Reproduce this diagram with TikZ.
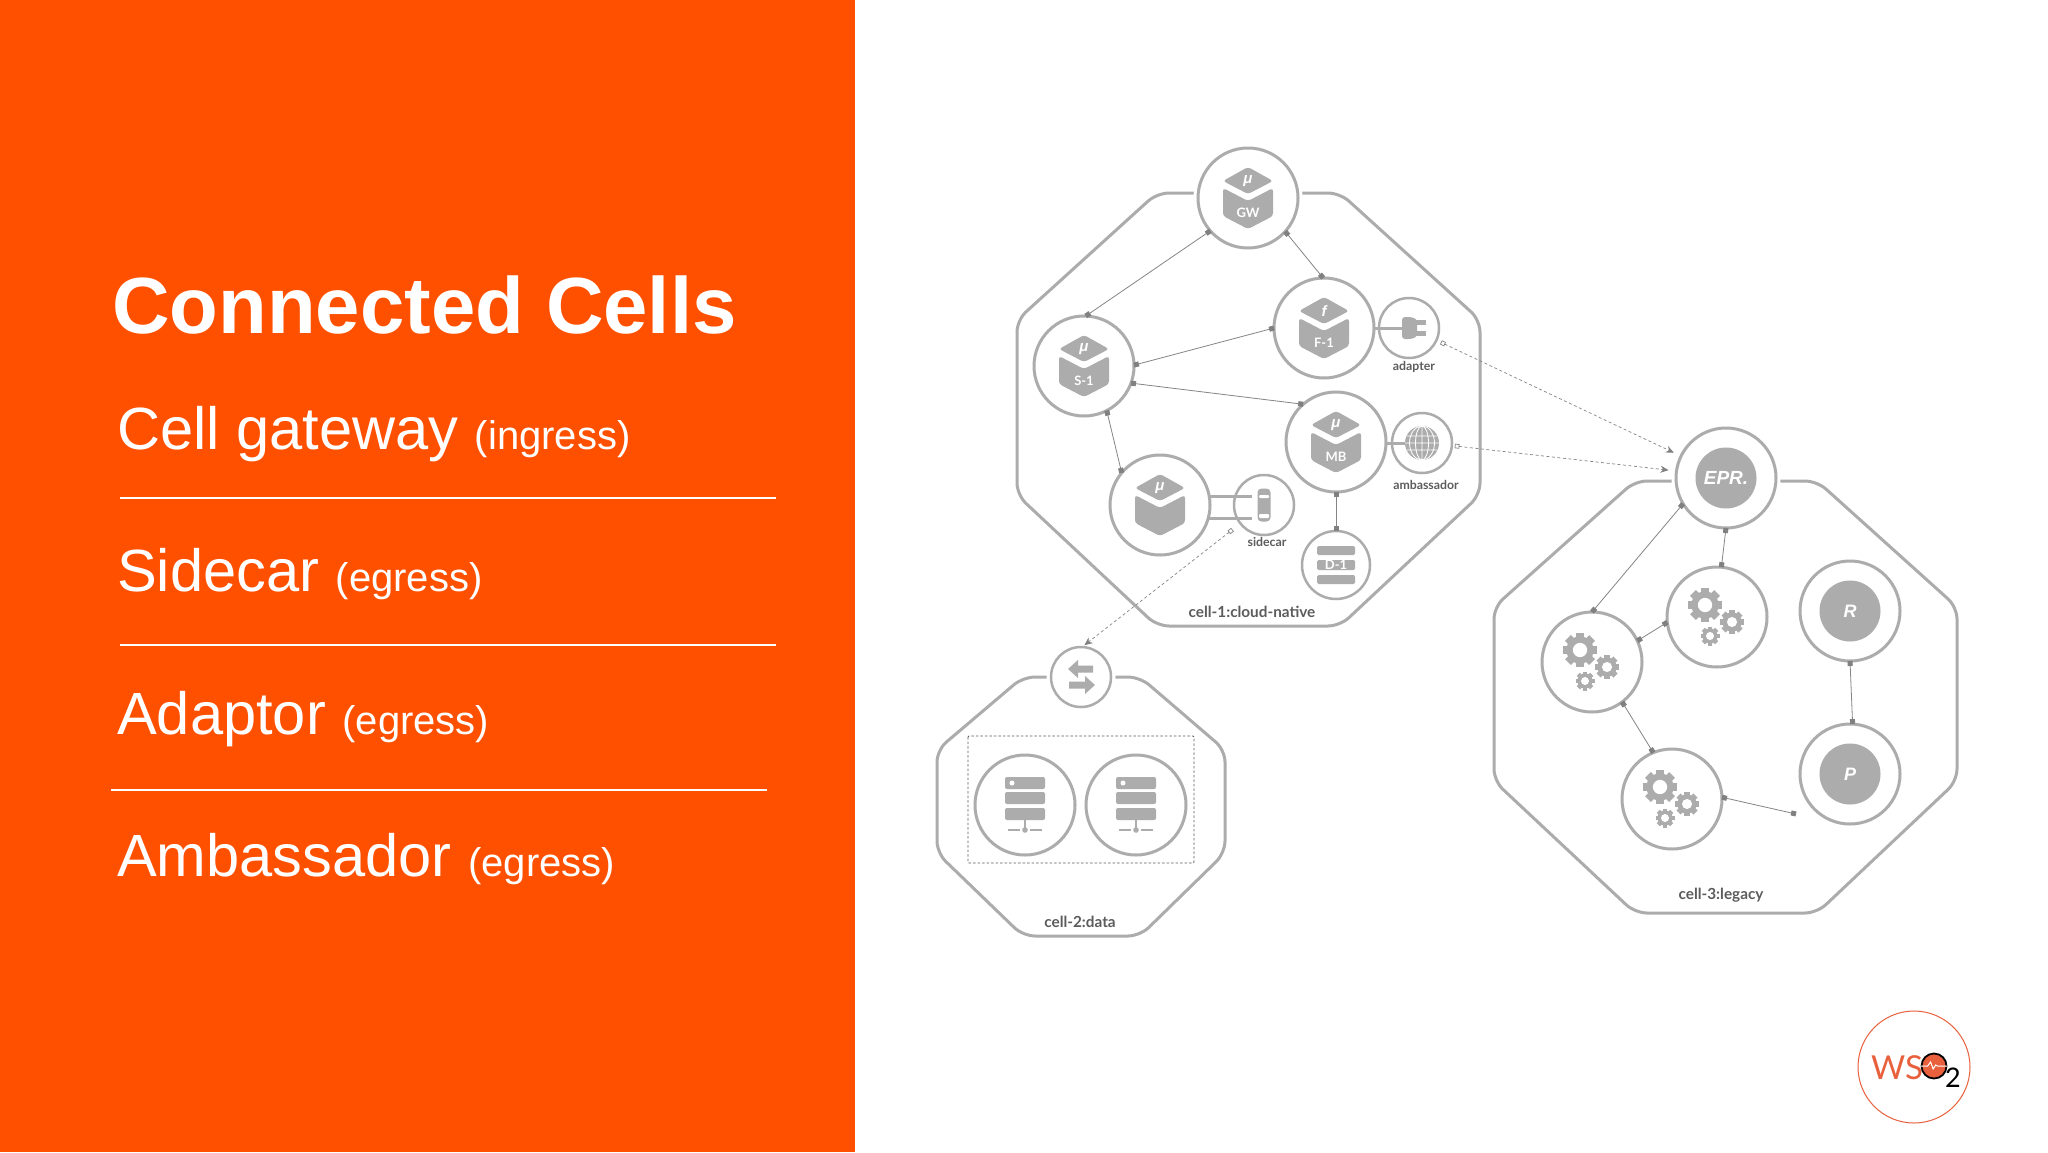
\documentclass[tikz,border=0pt]{standalone}
\usepackage{fontspec}
\usetikzlibrary{arrows.meta}
\setmainfont{Liberation Sans}
\newfontfamily\cellfont{Lato}
\definecolor{slideorange}{HTML}{FF5000}
\definecolor{cellgray}{HTML}{ABACAB}
\definecolor{linkgray}{HTML}{858585}
\definecolor{labelgray}{HTML}{5C5C5C}
\definecolor{logored}{HTML}{E8603C}
\tikzstyle{service}=[circle,draw=cellgray,fill=white,line width=3pt,minimum size=100pt,inner sep=0pt,outer sep=0pt]
\tikzstyle{gateway}=[service,preaction={draw=white,line width=9pt}]
\tikzstyle{helper}=[service,minimum size=60pt,line width=2.5pt]
\tikzstyle{cell}=[draw=cellgray,line width=3pt,rounded corners=12pt]
\tikzstyle{link}=[draw=linkgray,line width=.8pt,{Square[length=5pt,width=5pt,color=gray]}-{Square[length=5pt,width=5pt,color=gray]}]
\tikzstyle{egress}=[draw=linkgray,line width=.7pt,dash pattern=on 3pt off 2.5pt,{Square[open,length=4.5pt,width=4.5pt]}-{Stealth[length=8pt,width=7pt,color=gray]}]
\tikzstyle{stub}=[draw=cellgray,line width=3pt]
\tikzstyle{icon}=[fill=cellgray]
\tikzstyle{celllabel}=[text=labelgray,font=\cellfont\bfseries\fontsize{15.3}{15}\selectfont]
\tikzstyle{roleslabel}=[text=labelgray,font=\cellfont\bfseries\fontsize{12.3}{12}\selectfont]
\tikzstyle{iconlabel}=[text=white,font=\cellfont\bfseries\fontsize{13}{13}\selectfont,inner sep=0pt]
\tikzstyle{heading}=[anchor=base west,text=white,inner sep=0pt]
\tikzstyle{rule}=[draw=white,line width=2pt]
\newcommand{\biglabel}[1]{\fontsize{59.6}{60}\selectfont #1}
\newcommand{\smalllabel}[1]{\fontsize{40}{40}\selectfont #1}
\newcommand{\cubeicon}[3]{
  \begin{scope}[shift={(#1)}]
    \fill[icon,rounded corners=3pt] (-25,-17) -- (0,-31) -- (25,-17) -- (0,-4) -- cycle;
    \fill[icon,rounded corners=3pt] (-25,-10) -- (0,3) -- (25,-10) -- (25,18) -- (0,31) -- (-25,18) -- cycle;
    \node[iconlabel,font=\bfseries\itshape\fontsize{15}{15}\selectfont] (#1top) at (0,-17) {#2};
    \node[iconlabel] (#1name) at (0,15) {#3};
  \end{scope}
}
\newcommand{\gearicon}[3]{
  \begin{scope}[shift={(#1,#2)}]
    \foreach \ang in {0,45,90,135}
      \fill[icon,rotate=\ang] (-#3,{-0.24*#3}) rectangle (#3,{0.24*#3});
    \fill[icon] (0,0) circle[radius={0.8*#3}];
    \fill[white] (0,0) circle[radius={0.42*#3}];
  \end{scope}
}
\newcommand{\gearset}[1]{
  \begin{scope}[shift={(#1)}]
    \gearicon{-12}{-12}{17}
    \gearicon{15}{5}{12}
    \gearicon{-7}{19}{9.5}
  \end{scope}
}
\newcommand{\servericon}[1]{
  \begin{scope}[shift={(#1)}]
    \fill[icon,rounded corners=2pt] (-20,-28) rectangle (20,-16);
    \fill[icon,rounded corners=2pt] (-20,-13) rectangle (20,-1);
    \fill[icon,rounded corners=2pt] (-20,3) rectangle (20,15);
    \fill[white] (-13,-22) circle[radius=2.5];
    \fill[icon] (-1.2,15) rectangle (1.2,25);
    \fill[icon] (0,25) circle[radius=2.8];
    \fill[icon] (-17,24.2) rectangle (-5,25.8);
    \fill[icon] (5,24.2) rectangle (17,25.8);
  \end{scope}
}
\begin{document}
\begin{tikzpicture}[x=1pt,y=-1pt]
\useasboundingbox (0,0) rectangle (2048,1152);
\fill[white] (0,0) rectangle (2048,1152);
\fill[slideorange] (0,0) rectangle (855,1152);

\node[heading] (title) at (112,333) {\fontsize{79.7}{79}\selectfont\bfseries Connected Cells};
\node[heading] (ingress) at (117,449) {\biglabel{Cell gateway} \smalllabel{(ingress)}};
\node[heading] (sidecartext) at (117,591) {\biglabel{Sidecar} \smalllabel{(egress)}};
\node[heading] (adaptortext) at (117,734) {\biglabel{Adaptor} \smalllabel{(egress)}};
\node[heading] (ambassadortext) at (117,876) {\biglabel{Ambassador} \smalllabel{(egress)}};
\draw[rule] (120,498) -- (776,498);
\draw[rule] (120,645) -- (776,645);
\draw[rule] (111,790) -- (767,790);

\draw[cell] (1157,193) -- (1340,193) -- (1480,320) -- (1480,495) -- (1340,626) -- (1157,626) -- (1017,495) -- (1017,320) -- cycle;
\draw[cell] (1023,677) -- (1140,677) -- (1225,750) -- (1225,853) -- (1140,936) -- (1023,936) -- (937,853) -- (937,750) -- cycle;
\draw[cell] (1635,481) -- (1817,481) -- (1957,607) -- (1957,781) -- (1817,913) -- (1635,913) -- (1494,781) -- (1494,607) -- cycle;

\node[gateway] (gw) at (1248,198) {};
\node[service] (s1) at (1084,366) {};
\node[service] (f1) at (1324,328) {};
\node[service] (mb) at (1336,442) {};
\node[service] (ms) at (1160,505) {};
\node[helper] (adapter) at (1409,328) {};
\node[helper] (ambassador) at (1422,443) {};
\node[helper] (sidecar) at (1264,505) {};
\node[helper,minimum size=68pt] (d1) at (1336,565) {};

\node[gateway,minimum size=60pt,line width=2.5pt] (gate) at (1081,677) {};
\node[service] (db1) at (1025,805) {};
\node[service] (db2) at (1136,805) {};
\draw[labelgray,line width=.9pt,dash pattern=on 2.5pt off 2pt,rounded corners=1pt] (968,736) rectangle (1194,863);

\node[gateway] (epr) at (1726,478) {};
\node[service] (g1) at (1592,662) {};
\node[service] (g2) at (1717,617) {};
\node[service] (g3) at (1672,799) {};
\node[service] (r) at (1850,611) {};
\node[service] (p) at (1850,774) {};
\coordinate (pfree) at (1796,814);

\cubeicon{gw}{μ}{GW}
\cubeicon{s1}{μ}{S-1}
\cubeicon{f1}{\textit{f}}{F-1}
\cubeicon{mb}{μ}{MB}
\cubeicon{ms}{μ}{}
\gearset{g1}
\gearset{g2}
\gearset{g3}
\servericon{db1}
\servericon{db2}

\fill[icon] (epr) circle[radius=30.5];
\fill[icon] (r) circle[radius=30.5];
\fill[icon] (p) circle[radius=30.5];
\node[iconlabel,font=\bfseries\itshape\fontsize{19}{19}\selectfont] (eprname) at (epr) {EPR.};
\node[iconlabel,font=\bfseries\itshape\fontsize{18}{18}\selectfont] (rname) at (r) {R};
\node[iconlabel,font=\bfseries\itshape\fontsize{18}{18}\selectfont] (pname) at (p) {P};

\begin{scope}[shift={(d1)}]
\fill[icon,rounded corners=1.5pt] (-19,-19) rectangle (19,-10);
\fill[icon,rounded corners=1.5pt] (-19,-5) rectangle (19,5);
\fill[icon,rounded corners=1.5pt] (-19,10) rectangle (19,19);
\node[iconlabel] (d1name) at (0,0) {D-1};
\end{scope}

\begin{scope}[shift={(adapter)}]
\fill[icon,rounded corners=3pt] (-7,-11) -- (2,-11) -- (8,-9) -- (8,9) -- (2,11) -- (-7,11) -- cycle;
\fill[icon] (7,-8.5) rectangle (17,-3.5);
\fill[icon] (7,3) rectangle (17,8);
\coordinate (plug) at (-6,0);
\end{scope}
\draw[stub] (f1) ++(51,0) -- (plug);

\begin{scope}[shift={(ambassador)}]
\fill[icon] (0,0) circle[radius=17];
\draw[white,line width=.8pt] (0,-17) -- (0,17) (-17,0) -- (17,0) (-15.5,-7) -- (15.5,-7) (-15.5,7) -- (15.5,7) (0,0) ellipse[x radius=6.5,y radius=17] (0,0) ellipse[x radius=12.5,y radius=17];
\coordinate (globe) at (-17,0);
\end{scope}
\draw[stub] (mb) ++(51,1) -- (globe);

\begin{scope}[shift={(sidecar)}]
\fill[icon,rounded corners=4pt] (-6.5,-16.5) rectangle (6.5,16.5);
\fill[white,rounded corners=1pt] (-5,-10) rectangle (5,-7);
\fill[white,rounded corners=1pt] (-5,9) rectangle (5,13);
\end{scope}
\draw[stub] (ms) ++(48,-9) coordinate (ms1) -- ++(44,0);
\draw[stub] (ms) ++(48,13) coordinate (ms2) -- ++(44,0);

\begin{scope}[shift={(gate)}]
\fill[icon] (-13,-8) -- (-3,-17) -- (-3,-11.5) -- (12,-11.5) -- (12,-4.5) -- (-3,-4.5) -- (-3,1) -- cycle;
\fill[icon] (14,8) -- (4,-1) -- (4,4.5) -- (-12,4.5) -- (-12,11.5) -- (4,11.5) -- (4,17) -- cycle;
\end{scope}

\draw[link] (gw.221) -- (s1.88);
\draw[link] (gw.-42) -- (f1.91);
\draw[link] (s1.1) -- (f1.180);
\draw[link] (s1.-20) -- (mb.131);
\draw[link] (s1.-63) -- (ms.140);
\draw[link] (mb.-90) -- (d1.90);
\draw[link] (epr.211) -- (g1.90);
\draw[link] (epr.-90) -- (g2.85);
\draw[link] (g1.25) -- (g2.186);
\draw[link] (g1.-53) -- (g3.112);
\draw[link] (g3.2) -- (pfree);
\draw[link] (r.-90) -- (p.87);

\draw[egress,shorten <=5pt,shorten >=8pt] (adapter.-24) -- (epr.154);
\draw[egress,shorten <=3pt,shorten >=8pt] (ambassador.-5) -- (epr.172);
\draw[egress,shorten <=10pt,shorten >=3pt] (sidecar.218) -- (gate.88);

\node[roleslabel] (adapterlabel) at (1414,367) {adapter};
\node[roleslabel] (ambassadorlabel) at (1426,485) {ambassador};
\node[roleslabel] (sidecarlabel) at (1267,542) {sidecar};
\node[celllabel] (cell1label) at (1252,612) {cell-1:cloud-native};
\node[celllabel] (cell2label) at (1080,922) {cell-2:data};
\node[celllabel] (cell3label) at (1721,895) {cell-3:legacy};

\node[circle,draw=logored,fill=white,line width=1pt,minimum size=112pt,inner sep=0pt] (logo) at (1914,1067) {};
\node[inner sep=0pt,anchor=base west,text=logored,font=\cellfont\fontsize{33}{33}\selectfont] (logows) at (1871,1079) {WS};
\node[circle,draw=black,fill=logored,line width=1.8pt,minimum size=25pt,inner sep=0pt] (logoo) at (1934,1066) {};
\draw[white,line width=1pt] (logoo.west) -- ++(7,0) -- ++(3,-4) -- ++(2.5,7) -- ++(2.5,-4) -- ++(2,1) -- (logoo.east);
\node[inner sep=0pt,anchor=base west,text=black,font=\cellfont\fontsize{27}{27}\selectfont] (logotwo) at (1945,1087) {2};
\end{tikzpicture}
\end{document}
